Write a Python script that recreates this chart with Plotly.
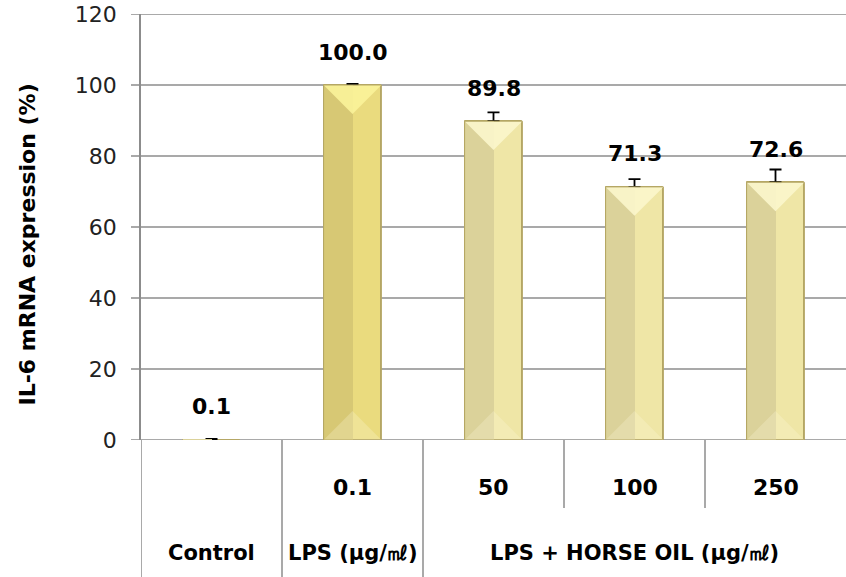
import plotly.graph_objects as go

groups = ["Control", "LPS (μg/㎖)", "LPS + HORSE OIL (μg/㎖)"]
doses = ["", "0.1", "50", "100", "250"]
values = [0.1, 100.0, 89.8, 71.3, 72.6]
errors = [0.2, 0.3, 2.5, 2.2, 3.6]
value_labels = ["0.1", "100.0", "89.8", "71.3", "72.6"]
y_ticks = [0, 20, 40, 60, 80, 100, 120]

right_col = ["#EFE6A6", "#EADB7E", "#EFE6A6", "#EFE6A6", "#EFE6A6"]
left_col = ["#DBD29A", "#D7C874", "#DBD29A", "#DBD29A", "#DBD29A"]
top_col = ["#FBF6CC", "#FBF39A", "#FBF6CC", "#FBF6CC", "#FBF6CC"]

FONT = "DejaVu Sans"
W, H = 846, 577
ML, MR, MT, MB = 141, 0, 14, 137
plot_h = H - MT - MB
bw = 0.41
xs = list(range(len(values)))

fig = go.Figure()
fig.add_trace(go.Bar(
    x=xs, y=values, width=bw, marker=dict(color=right_col, line=dict(color="#B5A765", width=1)),
    error_y=dict(type="data", symmetric=False, array=errors, arrayminus=[0]*len(values),
                 color="black", thickness=1.8, width=6),
    showlegend=False, hoverinfo="skip"))
fig.add_trace(go.Bar(
    x=xs, y=values, width=bw/2, offset=-bw/2,
    marker=dict(color=left_col, line=dict(width=0)),
    showlegend=False, hoverinfo="skip"))

units_per_px = 120 / plot_h
for i, v in enumerate(values):
    if v < 5:
        continue
    d = (bw / 2) * 141 * units_per_px
    fig.add_shape(type="path", xref="x", yref="y",
                  path=f"M {i-bw/2},{v} L {i+bw/2},{v} L {i},{v-d} Z",
                  fillcolor=top_col[i], line=dict(width=0), opacity=0.9)
    fig.add_shape(type="path", xref="x", yref="y",
                  path=f"M {i-bw/2},0 L {i+bw/2},0 L {i},{d} Z",
                  fillcolor="#FFFBE0", line=dict(width=0), opacity=0.25)
    fig.add_shape(type="rect", xref="x", yref="y", x0=i-bw/2, x1=i+bw/2, y0=0, y1=v,
                  line=dict(color="#B5A765", width=1), fillcolor="rgba(0,0,0,0)")

for i, (v, t) in enumerate(zip(values, value_labels)):
    fig.add_annotation(x=i, y=v, xref="x", yref="y", text=f"<b>{t}</b>", showarrow=False,
                       yanchor="middle", yshift=33, font=dict(family=FONT, size=22, color="black"))

for i, d in enumerate(doses):
    if d:
        fig.add_annotation(x=i, y=0, xref="x", yref="paper", text=f"<b>{d}</b>", showarrow=False,
                           yanchor="middle", yshift=-47, font=dict(family=FONT, size=22, color="black"))
group_x = [0, 1, 3]
for gx, g in zip(group_x, groups):
    fig.add_annotation(x=gx, y=0, xref="x", yref="paper", text=f"<b>{g}</b>", showarrow=False,
                       yanchor="middle", yshift=-113, font=dict(family=FONT, size=21, color="black"))

axis_col = "#8C8C8C"
lines = [(-0.5, -MB), (0.5, -MB), (1.5, -MB), (2.5, -68), (3.5, -68)]
for xv, depth in lines:
    fig.add_shape(type="line", xref="x", yref="paper", x0=xv, x1=xv,
                  y0=0, y1=depth / plot_h, line=dict(color=axis_col, width=1.5))
for tv in y_ticks:
    fig.add_shape(type="line", xref="paper", yref="y", x0=-10 / (W - ML), x1=1, y0=tv, y1=tv,
                  line=dict(color=axis_col, width=1.5), layer="below")

fig.add_annotation(x=0, y=(H - MB - 245) / plot_h, xref="paper", yref="paper",
                   text="<b>IL-6 mRNA expression (%)</b>", textangle=-90, showarrow=False,
                   xshift=-128, font=dict(family=FONT, size=22, color="black"))

fig.update_layout(
    width=W, height=H, margin=dict(l=ML, r=MR, t=MT, b=MB, autoexpand=False),
    plot_bgcolor="white", paper_bgcolor="white", bargap=0, barmode="overlay",
    font=dict(family=FONT, color="#222"),
    xaxis=dict(range=[-0.5, 4.5], showticklabels=False, showgrid=False, zeroline=False,
               showline=False, ticks="", automargin=False),
    yaxis=dict(range=[0, 120], tickmode="array", tickvals=y_ticks,
               ticktext=[str(t) for t in y_ticks], showgrid=False, automargin=False,
               zeroline=False, showline=True, linecolor=axis_col, linewidth=1.5,
               ticks="", ticklabelstandoff=18, ticklabeloverflow="allow",
               tickfont=dict(family=FONT, size=22, color="#222")),
)
fig.write_html("out.html", config={"displayModeBar": False},
               post_script="document.body.style.margin='0';document.body.style.overflow='hidden';")
